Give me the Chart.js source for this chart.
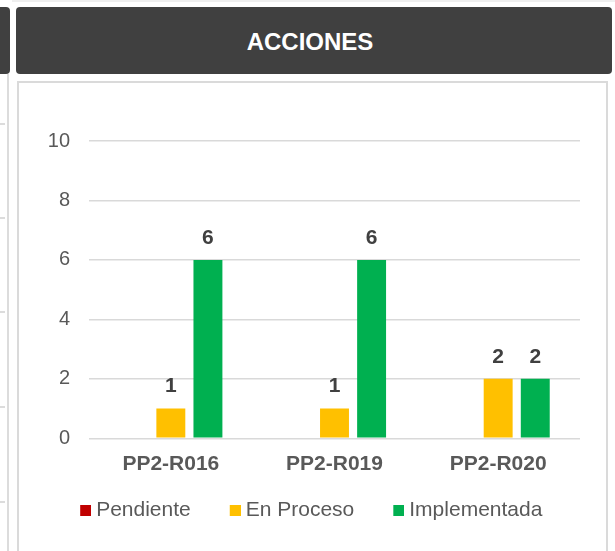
<!DOCTYPE html>
<html>
<head>
<meta charset="utf-8">
<script src="https://cdn.jsdelivr.net/npm/chart.js@4/dist/chart.umd.min.js"></script>
<style>
	html, body { margin: 0; padding: 0; background: #fff; overflow: hidden; }
	body { width: 615px; height: 551px; position: relative; font-family: "Liberation Sans", Arial, sans-serif; }
	.topline { position: absolute; left: 12px; right: 0; top: 0; height: 2px; background: #efefef; }
	.side-box { position: absolute; left: 0; top: 7px; width: 10px; height: 67px; background: #404040; border-radius: 0 4px 4px 0; }
	.side-line { position: absolute; left: 7px; top: 74px; width: 2px; bottom: 0; background: #dcdcdc; }
	.side-tick { position: absolute; left: 0; width: 5px; height: 2px; background: #dcdcdc; }
	.header {
		position: absolute; left: 16px; top: 7px; width: 596px; height: 67px;
		background: #404040; border-radius: 4px; color: #fff;
		font: bold 24px "Liberation Sans", Arial, sans-serif;
		display: flex; align-items: center; justify-content: center;
		box-sizing: border-box; padding-right: 8px; padding-top: 2px;
	}
	.panel { position: absolute; left: 17px; top: 81px; width: 587px; height: 480px; border: 2px solid #dadada; }
	#wrap { position: absolute; left: 19px; top: 83px; width: 587px; height: 448px; }
</style>
</head>
<body>
<div class="topline"></div>
<div class="side-box"></div>
<div class="side-line"></div>
<div class="side-tick" style="top:123px"></div>
<div class="side-tick" style="top:217px"></div>
<div class="side-tick" style="top:311px"></div>
<div class="side-tick" style="top:406px"></div>
<div class="side-tick" style="top:501px"></div>
<div class="header">ACCIONES</div>
<div class="panel"></div>
<div id="wrap"><canvas id="graph"></canvas></div>
<script>
"use strict";

const categories = ["PP2-R016", "PP2-R019", "PP2-R020"];
const pendiente = [0, 0, 0];
const enProceso = [1, 1, 2];
const implementada = [6, 6, 2];
const yTicks = [0, 2, 4, 6, 8, 10];

const FONT = "'Liberation Sans', Arial, sans-serif";
const COLORS = ["#C00000", "#FFC000", "#00B050"];

// legend marker: 11px square sitting at the right end of a 32px wide image,
// so the square ends up close to its text while items stay far apart
function marker(color) {
	const c = document.createElement("canvas");
	c.width = 32;
	c.height = 11;
	const g = c.getContext("2d");
	g.fillStyle = color;
	g.fillRect(21, 0, 11, 11);
	return c;
}

// value labels above each bar (skip zeros)
const barLabels = {
	id: "barLabels",
	afterDatasetsDraw(chart) {
		const ctx = chart.ctx;
		ctx.save();
		ctx.font = "bold 21px " + FONT;
		ctx.fillStyle = "#404040";
		ctx.textAlign = "center";
		ctx.textBaseline = "middle";
		chart.data.datasets.forEach((ds, i) => {
			chart.getDatasetMeta(i).data.forEach((bar, j) => {
				if (!ds.data[j]) return;
				ctx.fillText(String(ds.data[j]), bar.x, bar.y - 22);
			});
		});
		ctx.restore();
	},
};

new Chart(document.querySelector("#graph").getContext("2d"), {
	type: "bar",
	data: {
		labels: categories,
		datasets: [
			{ label: "Pendiente", data: pendiente, backgroundColor: COLORS[0] },
			{ label: "En Proceso", data: enProceso, backgroundColor: COLORS[1] },
			{ label: "Implementada", data: implementada, backgroundColor: COLORS[2] },
		],
	},
	options: {
		responsive: true,
		maintainAspectRatio: false,
		animation: false,
		categoryPercentage: 0.68,
		barPercentage: 0.78,
		layout: { padding: { top: 58, left: 8, right: 26, bottom: 0 } },
		scales: {
			x: {
				grid: { display: false, drawTicks: false },
				border: { display: false },
				ticks: {
					padding: 13,
					color: "#595959",
					font: { family: FONT, size: 21, weight: "bold" },
				},
				// padding is only needed once (above the labels)
				afterFit(scale) {
					scale.height = 38.2;
				},
			},
			y: {
				min: 0,
				max: 10,
				afterBuildTicks(scale) {
					scale.ticks = yTicks.map((v) => ({ value: v }));
				},
				grid: { color: "#d9d9d9", lineWidth: 1.5, drawTicks: false },
				border: { display: false },
				ticks: {
					padding: 19,
					color: "#595959",
					font: { family: FONT, size: 20 },
				},
				afterFit(scale) {
					scale.width = 62;
				},
			},
		},
		plugins: {
			legend: {
				position: "bottom",
				labels: {
					usePointStyle: true,
					boxWidth: 21,
					boxHeight: 11,
					padding: 23.5,
					color: "#595959",
					font: { family: FONT, size: 21 },
					generateLabels(chart) {
						return Chart.defaults.plugins.legend.labels
							.generateLabels(chart)
							.map((item, i) => Object.assign(item, { pointStyle: marker(COLORS[i]) }));
					},
				},
			},
			tooltip: { enabled: false },
		},
	},
	plugins: [barLabels],
});
</script>
</body>
</html>
